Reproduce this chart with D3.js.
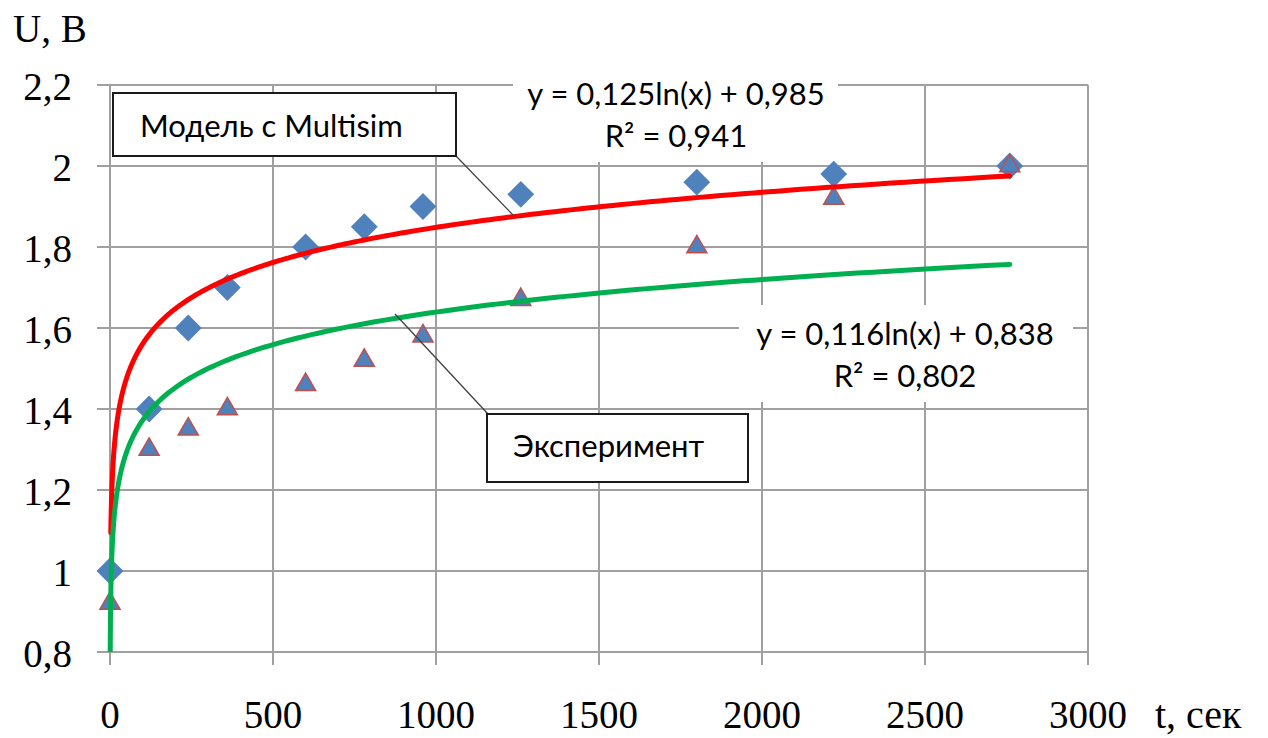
<!DOCTYPE html>
<html>
<head>
<meta charset="utf-8">
<script src="https://cdn.jsdelivr.net/npm/d3@7"></script>
<style>
  html, body { margin: 0; padding: 0; background: #fff; }
  svg { display: block; }
</style>
</head>
<body>
<svg id="chart" width="1268" height="738"></svg>
<script>
// ---- data ----
const tSec      = [0, 120, 240, 360, 600, 780, 960, 1260, 1800, 2220, 2760];
const uModel    = [1.00, 1.40, 1.60, 1.70, 1.80, 1.85, 1.90, 1.93, 1.96, 1.98, 2.00];
const uExper    = [0.92, 1.30, 1.35, 1.40, 1.46, 1.52, 1.58, 1.67, 1.80, 1.92, 2.00];
const fitModel  = [0.125, 0.985];   // y = a ln(x) + b
const fitExper  = [0.116, 0.838];
const fitRange  = [[2.4, 2760], [0.72, 2760]];
const xTicks    = [0, 500, 1000, 1500, 2000, 2500, 3000];
const yTicks    = [0.8, 1.0, 1.2, 1.4, 1.6, 1.8, 2.0, 2.2];
const yTickText = ["0,8", "1", "1,2", "1,4", "1,6", "1,8", "2", "2,2"];
const eqModel   = ["y = 0,125ln(x) + 0,985", "R² = 0,941"];
const eqExper   = ["y = 0,116ln(x) + 0,838", "R² = 0,802"];
const seriesNames = ["Модель с Multisim", "Эксперимент"];

// ---- layout ----
const svg = d3.select("#chart");
const X0 = 110, X1 = 1088, Y0 = 652, Y1 = 85;
const x = d3.scaleLinear().domain([0, 3000]).range([X0, X1]);
const y = d3.scaleLinear().domain([0.8, 2.2]).range([Y0, Y1]);
const serif = "'Liberation Serif', 'Times New Roman', serif";
const sans = "Lato, 'Liberation Sans', sans-serif";
const gridColor = "#a0a0a0";

svg.append("rect").attr("width", 1268).attr("height", 738).attr("fill", "#fff");

// gridlines
const g = svg.append("g");
g.selectAll(".hg").data(yTicks).join("line")
  .attr("x1", X0 - 13).attr("x2", X1)
  .attr("y1", d => y(d)).attr("y2", d => y(d))
  .attr("stroke", gridColor).attr("stroke-width", 2);
g.selectAll(".vg").data(xTicks).join("line")
  .attr("x1", d => x(d)).attr("x2", d => x(d))
  .attr("y1", Y1).attr("y2", Y0 + 13)
  .attr("stroke", gridColor).attr("stroke-width", 2);

// axis labels
svg.selectAll(".yl").data(yTicks).join("text")
  .attr("x", 72).attr("y", d => y(d) + 15)
  .attr("text-anchor", "end")
  .attr("font-family", serif).attr("font-size", 39).attr("fill", "#000")
  .text((d, i) => yTickText[i]);
svg.selectAll(".xl").data(xTicks).join("text")
  .attr("x", d => x(d)).attr("y", 728)
  .attr("text-anchor", "middle")
  .attr("font-family", serif).attr("font-size", 39).attr("fill", "#000")
  .text(d => d);
svg.append("text").attr("x", 1155).attr("y", 728)
  .attr("font-family", serif).attr("font-size", 40).text("t, сек");
svg.append("text").attr("x", 13).attr("y", 42)
  .attr("font-family", serif).attr("font-size", 39).text("U, В");

// white backgrounds of trendline equations
function eqLabel(lines, cx, yTop, x0, x1, yb0, yb1) {
  svg.append("rect").attr("x", x0).attr("y", yb0)
    .attr("width", x1 - x0).attr("height", yb1 - yb0).attr("fill", "#fff");
  svg.selectAll(null).data(lines).join("text")
    .attr("x", cx).attr("y", (d, i) => yTop + i * 42)
    .attr("text-anchor", "middle")
    .attr("font-family", sans).attr("font-size", 31).attr("fill", "#000")
    .text(d => d);
}
eqLabel(eqModel, 676, 105, 513, 838, 62, 162);
eqLabel(eqExper, 905, 345, 739, 1073, 305, 402);

// markers
const diamond = d3.symbol().type(d3.symbolSquare).size(360);
const tri = d3.symbol().type(d3.symbolTriangle).size(175);
svg.selectAll(".dm").data(tSec).join("path")
  .attr("d", diamond)
  .attr("transform", (d, i) => `translate(${x(d)},${y(uModel[i])}) rotate(45)`)
  .attr("fill", "#4f81bd");
svg.selectAll(".tr").data(tSec).join("path")
  .attr("d", tri)
  .attr("transform", (d, i) => `translate(${x(d)},${y(uExper[i])})`)
  .attr("fill", "#4f81bd").attr("stroke", "#c0504d").attr("stroke-width", 1.5);

// trendlines
svg.append("clipPath").attr("id", "plot").append("rect")
  .attr("x", X0 - 20).attr("y", Y1).attr("width", X1 - X0 + 20).attr("height", Y0 - Y1);
const line = d3.line().x(d => x(d[0])).y(d => y(d[1]));
function trend(coef, range, color) {
  const n = 400, [a, b] = range;
  const pts = d3.range(n + 1).map(i => {
    const t = a * Math.pow(b / a, i / n);
    return [t, coef[0] * Math.log(t) + coef[1]];
  });
  svg.append("path").datum(pts).attr("d", line)
    .attr("fill", "none").attr("stroke", color).attr("stroke-width", 5)
    .attr("stroke-linecap", "round")
    .attr("clip-path", "url(#plot)");
}
trend(fitModel, fitRange[0], "#ff0000");
trend(fitExper, fitRange[1], "#00b050");

// callout labels
function callout(name, bx, by, bw, bh, tx, ty, lx0, ly0, lx1, ly1) {
  svg.append("line").attr("x1", lx0).attr("y1", ly0).attr("x2", lx1).attr("y2", ly1)
    .attr("stroke", "#404040").attr("stroke-width", 1.3);
  svg.append("rect").attr("x", bx).attr("y", by).attr("width", bw).attr("height", bh)
    .attr("fill", "#fff").attr("stroke", "#1a1a1a").attr("stroke-width", 2);
  svg.append("text").attr("x", tx).attr("y", ty)
    .attr("font-family", sans).attr("font-size", 31).attr("fill", "#000").text(name);
}
callout(seriesNames[0], 113, 93, 343, 63, 140, 137, 456, 156, 513, 215);
callout(seriesNames[1], 487, 414, 261, 68, 513, 457, 395, 314, 488, 414);
</script>
</body>
</html>
